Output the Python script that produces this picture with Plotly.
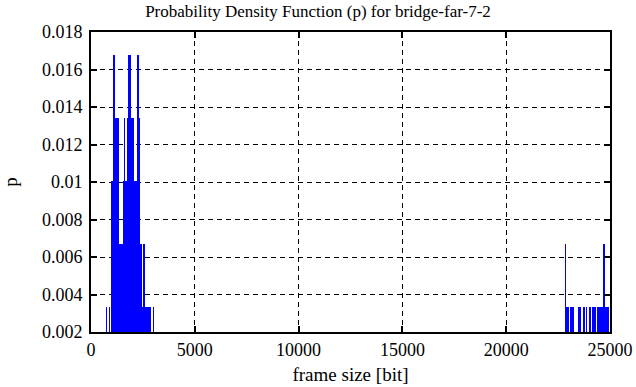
import plotly.graph_objects as go

# Histogram bins of frame size [bit]: lower edge, upper edge, probability
bin_lo = [720, 870, 965, 1060, 1160, 1350, 1540, 1590, 1640, 1735, 1785, 1930, 2070, 2215,
          2310, 2360, 2455, 2505, 2600, 2985,
          22810, 22880, 23070, 23460, 23700, 23845, 23990, 24135, 24375, 24665, 24760]
bin_hi = [770, 920, 1060, 1160, 1350, 1540, 1590, 1640, 1735, 1785, 1930, 2070, 2215, 2310,
          2360, 2455, 2505, 2600, 2890, 3035,
          22880, 23025, 23265, 23600, 23795, 23890, 24085, 24325, 24665, 24760, 24960]
p_vals = [0.00336, 0.00336, 0.01007, 0.01678, 0.01342, 0.00671, 0.01007, 0.01342, 0.01007,
          0.01342, 0.01678, 0.01342, 0.01007, 0.01678, 0.01342, 0.00671, 0.00336, 0.00671,
          0.00336, 0.00336,
          0.00671, 0.00336, 0.00336, 0.00336, 0.00336, 0.00336, 0.00336, 0.00336, 0.00336,
          0.00671, 0.00336]

x_ticks = [0, 5000, 10000, 15000, 20000, 25000]
x_tick_labels = ["0", "5000", "10000", "15000", "20000", "25000"]
y_ticks = [0.002, 0.004, 0.006, 0.008, 0.010, 0.012, 0.014, 0.016, 0.018]
y_tick_labels = ["0.002", "0.004", "0.006", "0.008", "0.01", "0.012", "0.014", "0.016", "0.018"]

centers = [(a + b) / 2 for a, b in zip(bin_lo, bin_hi)]
widths = [b - a for a, b in zip(bin_lo, bin_hi)]

FONT = "Liberation Serif, Times New Roman, serif"

fig = go.Figure()
fig.add_trace(go.Bar(x=centers, y=p_vals, width=widths,
                     marker=dict(color="#0000FF", line=dict(width=0)),
                     showlegend=False, hoverinfo="skip"))

axis_common = dict(
    automargin=False,
    showline=True, linecolor="black", linewidth=2, mirror="ticks",
    ticks="inside", ticklen=6, tickcolor="black", tickwidth=2,
    showgrid=True, gridcolor="black", gridwidth=1, griddash="5px,4px",
    zeroline=False,
    tickfont=dict(family=FONT, size=18, color="black"),
)

fig.update_layout(
    width=636, height=387,
    margin=dict(l=91, r=26, t=32, b=55),
    font=dict(family=FONT, size=18, color="black"),
    paper_bgcolor="white", plot_bgcolor="white",
    title=dict(text="Probability Density Function (p) for bridge-far-7-2",
               x=0.5, xanchor="center", xref="container",
               y=0.971, yanchor="middle",
               font=dict(family=FONT, size=17, color="black")),
    xaxis=dict(range=[0, 25000], tickvals=x_ticks, ticktext=x_tick_labels,
               title=dict(text="frame size [bit]", font=dict(family=FONT, size=19, color="black"),
                          standoff=9),
               **axis_common),
    yaxis=dict(range=[0.002, 0.018], tickvals=y_ticks, ticktext=y_tick_labels,
               ticklabelstandoff=3,
               title=dict(text="p", font=dict(family=FONT, size=19, color="black"), standoff=24),
               **axis_common),
    bargap=0,
)

fig.write_html("out.html", config={"displayModeBar": False, "staticPlot": True},
               post_script="document.body.style.margin='0';")
